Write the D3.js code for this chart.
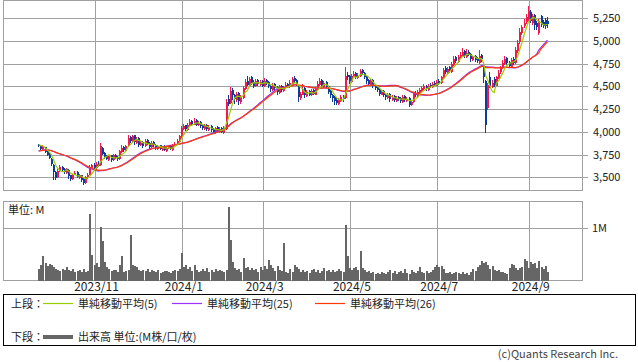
<!DOCTYPE html>
<html>
<head>
<meta charset="utf-8">
<script src="https://cdn.jsdelivr.net/npm/d3@7"></script>
<style>
body { margin: 0; background: #fff; }
text { font-family: "Noto Sans CJK JP", "Noto Sans", sans-serif; }
</style>
</head>
<body>
<svg id="drawing_region"></svg>
<script>
// trading calendar (TSE holidays inside the range)
const startDay = "2023-09-25";
const endDay = "2024-09-13";
const holidays = ["2023-10-09","2023-11-03","2023-11-23","2024-01-01","2024-01-02","2024-01-03",
  "2024-01-08","2024-02-12","2024-02-23","2024-03-20","2024-04-29","2024-05-03","2024-05-06",
  "2024-07-15","2024-08-12"];
const tickMonths = ["2023-11","2024-01","2024-03","2024-05","2024-07","2024-09"];
const tickLabels = ["2023/11","2024/1","2024/3","2024/5","2024/7","2024/9"];
const priceTicks = [3500,3750,4000,4250,4500,4750,5000,5250];
const volumeTicks = [1];
const volumeTickLabels = ["1M"];

// closes before the first drawn day (only used by the moving averages)
const preClose = [3720,3740,3700,3730,3760,3790,3770,3750,3780,3810,3790,3760,3740,3770,3800,
  3780,3760,3790,3820,3800,3840,3870,3850,3880,3860];

const open = [
  3860,3840,3810,3830,3790,3760,3700,3640,3560,3500, 3570,3610,3590,3550,3580,3520,3480,3530,3560,3490,
  3520,3480,3440,3490,3530,3600,3640,3600,3660,3630, 3820,3770,3730,3690,3740,3690,3750,3720,3700,3780,
  3830,3790,3840,3940,3890,3960,3880,3930,3850,3890, 3840,3910,3880,3830,3890,3860,3810,3850,3800,3840,
  3790,3820,3850,3800,3850,3860,3890,3940,4030,4070, 4020,4070,4120,4080,4130,4070,4110,4070,4030,4080,
  4020,4060,4030,3990,4050,4000,4040,3990,4030,4360, 4320,4460,4410,4350,4430,4330,4370,4470,4560,4510,
  4600,4550,4500,4570,4520,4560,4500,4570,4550,4510, 4460,4530,4490,4430,4510,4450,4480,4530,4490,4530,
  4590,4570,4510,4370,4410,4480,4390,4450,4400,4460, 4410,4460,4520,4570,4490,4550,4500,4450,4410,4380,
  4350,4310,4340,4390,4370,4630,4610,4550,4600,4650, 4590,4610,4680,4650,4610,4570,4520,4570,4510,4490,
  4470,4410,4450,4410,4370,4420,4350,4390,4340,4380, 4370,4330,4390,4340,4370,4290,4330,4430,4390,4430,
  4450,4470,4510,4460,4520,4490,4540,4510,4560,4540, 4590,4700,4650,4710,4660,4740,4820,4770,4810,4840,
  4890,4820,4880,4860,4790,4830,4800,4760,4850,4710, 4560,4260,4600,4490,4580,4510,4590,4660,4700,4750,
  4810,4770,4710,4800,4760,4890,4990,5090,5160,5210, 5240,5320,5200,5290,5200,5090,5270,5210,5230,5220
];
const high = [
  3870,3850,3850,3835,3800,3770,3710,3650,3570,3590, 3630,3620,3600,3600,3590,3530,3540,3570,3570,3540,
  3530,3490,3510,3550,3630,3650,3660,3670,3680,3880, 3830,3780,3750,3750,3750,3760,3760,3730,3800,3850,
  3840,3860,3960,3950,3970,3970,3940,3940,3900,3900, 3920,3920,3890,3900,3900,3870,3860,3860,3840,3850,
  3830,3860,3860,3870,3890,3920,3970,4060,4090,4080, 4100,4140,4130,4150,4140,4120,4120,4080,4090,4090,
  4070,4070,4040,4050,4060,4050,4050,4060,4360,4400, 4490,4480,4420,4440,4440,4400,4500,4580,4610,4600,
  4610,4570,4580,4580,4570,4570,4590,4580,4560,4520, 4540,4540,4500,4520,4520,4510,4550,4540,4570,4600,
  4610,4580,4520,4440,4530,4490,4460,4460,4470,4470, 4490,4560,4590,4580,4560,4560,4510,4460,4420,4390,
  4370,4370,4400,4410,4715,4660,4630,4640,4670,4660, 4650,4690,4690,4660,4620,4580,4580,4580,4520,4500,
  4480,4460,4460,4420,4430,4430,4400,4400,4390,4390, 4380,4400,4400,4380,4380,4350,4440,4450,4460,4480,
  4500,4530,4520,4530,4540,4550,4560,4570,4580,4620, 4700,4720,4710,4720,4770,4830,4840,4850,4880,4920,
  4900,4910,4900,4870,4840,4850,4820,4900,4860,4720, 4570,4540,4660,4570,4600,4620,4680,4730,4790,4830,
  4820,4780,4810,4820,4930,5010,5140,5180,5240,5300, 5390,5340,5300,5300,5220,5240,5290,5230,5250,5260
];
const low = [
  3830,3800,3800,3770,3730,3700,3620,3470,3470,3490, 3560,3560,3540,3540,3480,3460,3470,3520,3490,3480,
  3450,3410,3430,3480,3520,3590,3590,3590,3610,3620, 3740,3700,3690,3680,3670,3680,3700,3680,3690,3770,
  3780,3780,3830,3880,3880,3860,3870,3830,3840,3820, 3830,3850,3810,3820,3830,3800,3800,3800,3790,3790,
  3780,3810,3800,3790,3840,3850,3880,3930,4020,4010, 4010,4060,4070,4070,4060,4060,4040,4020,4020,4010,
  4010,4000,3980,3980,4000,3990,3990,3980,4020,4280, 4310,4350,4310,4330,4300,4310,4360,4460,4500,4500,
  4520,4480,4490,4510,4510,4490,4490,4520,4480,4440, 4450,4460,4410,4420,4440,4440,4470,4480,4480,4520,
  4540,4500,4330,4350,4400,4370,4380,4390,4390,4400, 4400,4450,4510,4480,4480,4470,4420,4370,4330,4300,
  4290,4300,4330,4330,4360,4570,4530,4540,4590,4580, 4580,4600,4630,4580,4530,4500,4510,4480,4460,4440,
  4390,4400,4380,4350,4360,4330,4340,4330,4330,4340, 4320,4320,4330,4330,4275,4280,4320,4380,4380,4420,
  4440,4460,4450,4450,4480,4480,4500,4500,4520,4530, 4580,4640,4640,4650,4650,4730,4760,4760,4800,4830,
  4810,4810,4830,4770,4780,4770,4760,4750,4770,4540, 3985,4240,4480,4480,4490,4500,4580,4640,4690,4740,
  4740,4700,4700,4740,4750,4870,4970,5070,5140,5190, 5220,5200,5180,5120,5120,5065,5150,5140,5130,5140
];
const close = [
  3840,3815,3835,3780,3750,3710,3650,3560,3490,3570, 3610,3580,3560,3590,3510,3480,3530,3550,3500,3520,
  3470,3440,3500,3530,3610,3630,3600,3650,3620,3840, 3760,3720,3700,3730,3690,3740,3710,3700,3790,3820,
  3800,3840,3930,3900,3950,3890,3920,3860,3880,3840, 3900,3870,3830,3880,3850,3820,3840,3810,3830,3800,
  3820,3840,3810,3850,3870,3900,3950,4040,4060,4030, 4080,4110,4090,4120,4080,4100,4060,4040,4070,4030,
  4050,4020,4000,4040,4010,4030,4000,4040,4330,4310, 4450,4400,4360,4420,4340,4380,4480,4550,4520,4580,
  4540,4500,4560,4530,4550,4510,4560,4540,4500,4470, 4520,4480,4440,4500,4460,4490,4520,4500,4540,4580,
  4560,4520,4380,4420,4470,4400,4440,4410,4450,4420, 4470,4530,4560,4500,4540,4490,4440,4400,4370,4340,
  4320,4350,4380,4360,4620,4600,4560,4610,4640,4600, 4620,4670,4650,4600,4560,4530,4560,4500,4480,4460,
  4420,4440,4400,4380,4410,4360,4380,4350,4370,4360, 4340,4380,4350,4360,4300,4330,4420,4400,4440,4460,
  4480,4500,4470,4510,4500,4530,4520,4550,4540,4600, 4680,4660,4690,4670,4750,4800,4780,4820,4850,4880,
  4830,4870,4850,4800,4820,4790,4780,4840,4800,4600, 4080,4520,4500,4540,4520,4600,4650,4700,4760,4800,
  4760,4720,4790,4760,4900,4980,5100,5150,5200,5260, 5330,5220,5280,5180,5150,5220,5180,5170,5160,5190
];
// volume in millions of shares
const volume = [
  0.22,0.30,0.46,0.33,0.28,0.31,0.30,0.26,0.22,0.20, 0.19,0.22,0.20,0.25,0.20,0.18,0.22,0.17,0.18,0.20,
  0.16,0.22,0.17,0.18,1.27,0.49,0.30,0.33,0.26,1.03, 0.76,0.35,0.25,0.22,0.18,0.21,0.20,0.16,0.30,0.47,
  0.17,0.18,0.20,0.87,0.30,0.27,0.25,0.21,0.19,0.20, 0.18,0.22,0.17,0.20,0.18,0.16,0.21,0.15,0.17,0.19,
  0.18,0.16,0.14,0.18,0.20,0.18,0.22,0.53,0.26,0.30, 0.22,0.26,0.18,0.30,0.20,0.17,0.19,0.22,0.18,0.24,
  0.17,0.20,0.16,0.22,0.18,0.21,0.19,0.17,0.20,1.41, 0.78,0.36,0.24,0.20,0.22,0.17,0.43,0.24,0.25,0.21,
  0.24,0.20,0.22,0.17,0.25,0.20,0.28,0.22,0.40,0.30, 0.24,0.18,0.28,0.20,0.18,0.71,0.17,0.15,0.22,0.16,
  0.30,0.26,0.22,0.17,0.20,0.16,0.18,0.15,0.20,0.22, 0.16,0.21,0.14,0.19,0.23,0.18,0.20,0.16,0.21,0.17,
  0.19,0.22,0.18,0.16,1.06,0.46,0.24,0.20,0.23,0.26, 0.20,0.57,0.24,0.20,0.16,0.19,0.14,0.17,0.12,0.15,
  0.13,0.17,0.14,0.12,0.16,0.20,0.15,0.19,0.13,0.16, 0.18,0.14,0.22,0.15,0.13,0.21,0.16,0.15,0.18,0.26,
  0.16,0.14,0.18,0.15,0.17,0.20,0.26,0.29,0.25,0.27, 0.22,0.14,0.15,0.16,0.13,0.15,0.16,0.14,0.13,0.17,
  0.12,0.14,0.11,0.16,0.22,0.18,0.25,0.30,0.38,0.33, 0.36,0.30,0.22,0.28,0.20,0.18,0.20,0.17,0.16,0.14,
  0.13,0.23,0.31,0.29,0.24,0.21,0.23,0.26,0.41,0.37, 0.24,0.36,0.31,0.34,0.24,0.38,0.26,0.22,0.28,0.17
];

const maPeriods = [25, 26, 5];
const maColors = ["#9b30ff", "#ff3a00", "#9acd00"];

// build the list of trading days
const fmt = d3.timeFormat("%Y-%m-%d");
const parse = d3.timeParse("%Y-%m-%d");
const dates = d3.timeDay.range(parse(startDay), d3.timeDay.offset(parse(endDay), 1))
  .filter(d => d.getDay() !== 0 && d.getDay() !== 6 && !holidays.includes(fmt(d)))
  .map(fmt);

const candles = dates.map((d, i) => ({
  date: d, i: i, o: open[i], h: high[i], l: low[i], c: close[i], v: volume[i]
}));

function movingAverage(n){
  const all = preClose.concat(close);
  const off = preClose.length;
  return close.map((c, i) => d3.mean(all.slice(off + i - n + 1, off + i + 1)));
}

const W = 638, H = 362;
const plot = {left: 3, right: 582, top: 0, bottom: 190};
const vplot = {top: 201, bottom: 280.5};

const svg = d3.select('#drawing_region')
  .attr('width', W)
  .attr('height', H);

const x = d3.scaleLinear()
  .domain([-17, 255])
  .range([plot.left, plot.right]);

const y = d3.scaleLinear()
  .domain([3360, 5451])
  .range([plot.bottom, plot.top]);

const yv = d3.scaleLinear()
  .domain([0, 1.523])
  .range([vplot.bottom, vplot.top]);

const px = i => Math.round(x(i));
const tickIdx = tickMonths.map(m => dates.findIndex(d => d.slice(0, 7) === m));

const grid = svg.append('g')
  .attr('stroke', '#a0a0a0')
  .attr('stroke-width', 1)
  .attr('shape-rendering', 'crispEdges');

// price grid
grid.selectAll('.hp')
  .data(priceTicks)
  .join('line')
  .attr('x1', plot.left).attr('x2', plot.right + 6)
  .attr('y1', d => Math.round(y(d)) + 0.5)
  .attr('y2', d => Math.round(y(d)) + 0.5);

// volume grid
grid.selectAll('.hv')
  .data(volumeTicks)
  .join('line')
  .attr('x1', plot.left).attr('x2', plot.right + 6)
  .attr('y1', d => Math.round(yv(d)) + 0.5)
  .attr('y2', d => Math.round(yv(d)) + 0.5);

// vertical month lines in both panels
tickIdx.forEach(t => {
  grid.append('line')
    .attr('x1', px(t) + 0.5).attr('x2', px(t) + 0.5)
    .attr('y1', plot.top).attr('y2', plot.bottom);
  grid.append('line')
    .attr('x1', px(t) + 0.5).attr('x2', px(t) + 0.5)
    .attr('y1', vplot.top).attr('y2', vplot.bottom);
});

grid.append('rect')
  .attr('x', plot.left + 0.5).attr('y', plot.top + 0.5)
  .attr('width', plot.right - plot.left).attr('height', plot.bottom - plot.top)
  .attr('fill', 'none');
grid.append('rect')
  .attr('x', plot.left + 0.5).attr('y', vplot.top + 0.5)
  .attr('width', plot.right - plot.left).attr('height', vplot.bottom - vplot.top - 0.5)
  .attr('fill', 'none');

// candles
const upColor = '#f5164c', downColor = '#0c3d9c';
const cg = svg.append('g').attr('shape-rendering', 'crispEdges');

cg.selectAll('.wick')
  .data(candles)
  .join('rect')
  .attr('x', d => px(d.i) - 1)
  .attr('width', 1)
  .attr('y', d => y(d.h))
  .attr('height', d => Math.max(1, y(d.l) - y(d.h)))
  .attr('fill', d => d.c >= d.o ? upColor : downColor);

cg.selectAll('.body')
  .data(candles)
  .join('rect')
  .attr('x', d => px(d.i) - 1)
  .attr('width', 2)
  .attr('y', d => y(Math.max(d.o, d.c)))
  .attr('height', d => Math.max(1, Math.abs(y(d.o) - y(d.c))))
  .attr('fill', d => d.c >= d.o ? upColor : downColor);

// moving averages
const line = d3.line()
  .x((d, i) => x(i) - 0.5)
  .y(d => y(d));

maPeriods.forEach((n, k) => {
  svg.append('path')
    .datum(movingAverage(n))
    .attr('d', line)
    .attr('fill', 'none')
    .attr('stroke', maColors[k])
    .attr('stroke-width', 1.2);
});

// volume
svg.append('g')
  .attr('shape-rendering', 'crispEdges')
  .selectAll('rect')
  .data(candles)
  .join('rect')
  .attr('x', d => px(d.i) - 1)
  .attr('width', 2)
  .attr('y', d => yv(d.v))
  .attr('height', d => yv(0) - yv(d.v))
  .attr('fill', '#666666');

// axis labels
const labels = svg.append('g').attr('fill', '#222');

labels.selectAll('.py')
  .data(priceTicks)
  .join('text')
  .attr('x', 593)
  .attr('y', d => y(d) + 4)
  .style('font-size', '11px')
  .text(d => d3.format(',')(d));

labels.selectAll('.vy')
  .data(volumeTicks)
  .join('text')
  .attr('x', 592)
  .attr('y', d => yv(d) + 4)
  .style('font-size', '11px')
  .text((d, i) => volumeTickLabels[i]);

labels.selectAll('.tx')
  .data(tickIdx)
  .join('text')
  .attr('x', d => x(d) + 2)
  .attr('y', 291)
  .attr('text-anchor', 'middle')
  .style('font-size', '12px')
  .text((d, i) => tickLabels[i]);

labels.append('text')
  .attr('x', 8).attr('y', 214)
  .style('font-size', '11px')
  .text('単位: M');

// legend
const lg = svg.append('g');
lg.append('rect')
  .attr('x', 3.5).attr('y', 294.5)
  .attr('width', 632).attr('height', 51)
  .attr('fill', 'none').attr('stroke', '#000')
  .attr('shape-rendering', 'crispEdges');

const legendItems = [
  {x: 43, label: '単純移動平均(5)', color: maColors[2]},
  {x: 172, label: '単純移動平均(25)', color: maColors[0]},
  {x: 315, label: '単純移動平均(26)', color: maColors[1]}
];

lg.append('text').attr('x', 11).attr('y', 308).style('font-size', '11px').attr('fill', '#222').text('上段：');
legendItems.forEach(it => {
  lg.append('line')
    .attr('x1', it.x).attr('x2', it.x + 30)
    .attr('y1', 303.5).attr('y2', 303.5)
    .attr('stroke', it.color).attr('stroke-width', 1.2);
  lg.append('text')
    .attr('x', it.x + 35).attr('y', 308)
    .style('font-size', '11px').attr('fill', '#222')
    .text(it.label);
});

lg.append('text').attr('x', 11).attr('y', 341).style('font-size', '11px').attr('fill', '#222').text('下段：');
lg.append('line')
  .attr('x1', 43).attr('x2', 73)
  .attr('y1', 337).attr('y2', 337)
  .attr('stroke', '#666').attr('stroke-width', 4);
lg.append('text')
  .attr('x', 78).attr('y', 341)
  .style('font-size', '11px').attr('fill', '#222')
  .text('出来高 単位:(M株/口/枚)');

svg.append('text')
  .attr('x', 618).attr('y', 358)
  .attr('text-anchor', 'end')
  .style('font-size', '11px').attr('fill', '#444')
  .text('(c)Quants Research Inc.');
</script>
</body>
</html>
